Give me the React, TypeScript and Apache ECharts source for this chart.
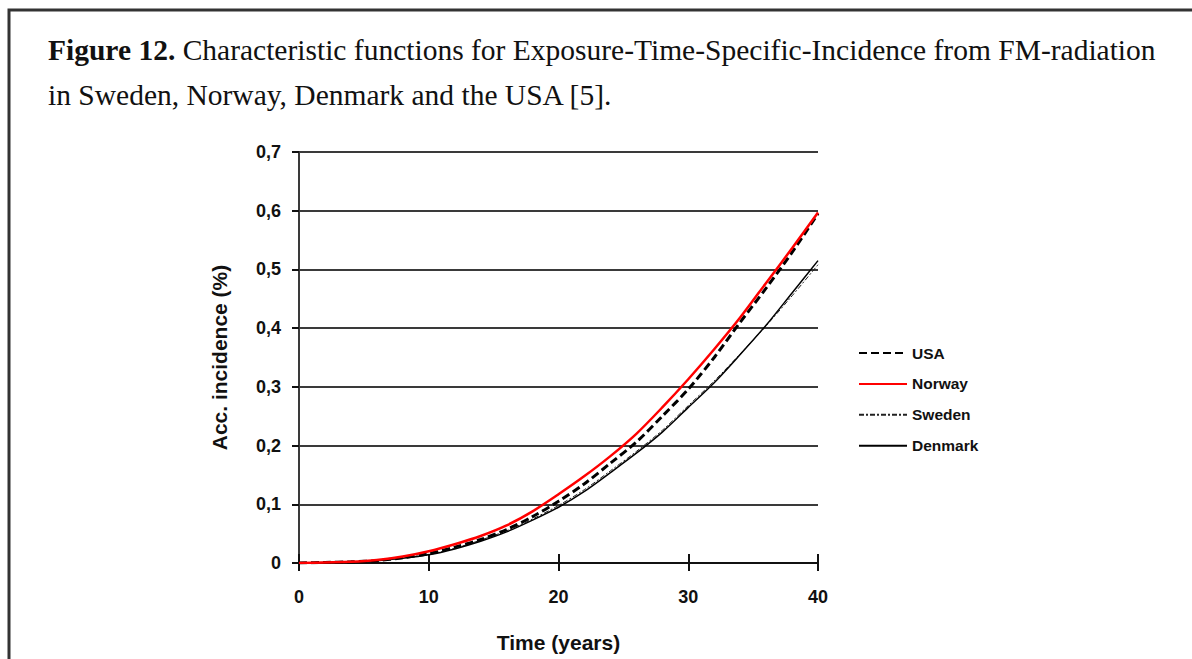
import React, { useEffect, useRef } from "react";
import * as echarts from "echarts";

const years = [0, 2, 4, 6, 8, 10, 12, 14, 16, 18, 20, 22, 24, 26, 28, 30, 32, 34, 36, 38, 40];
const usa = [0, 0.001, 0.002, 0.004, 0.009, 0.016, 0.027, 0.04, 0.057, 0.079, 0.105, 0.135, 0.17, 0.206, 0.25, 0.296, 0.35, 0.41, 0.468, 0.529, 0.595];
const norway = [0, 0.001, 0.002, 0.005, 0.011, 0.02, 0.032, 0.046, 0.064, 0.088, 0.117, 0.148, 0.182, 0.22, 0.265, 0.313, 0.364, 0.418, 0.477, 0.536, 0.597];
const sweden = [0, 0.001, 0.002, 0.004, 0.009, 0.015, 0.025, 0.039, 0.055, 0.075, 0.098, 0.125, 0.157, 0.19, 0.226, 0.268, 0.31, 0.356, 0.404, 0.455, 0.508];
const denmark = [0, 0.001, 0.002, 0.004, 0.008, 0.014, 0.024, 0.037, 0.053, 0.073, 0.095, 0.122, 0.154, 0.187, 0.223, 0.265, 0.307, 0.355, 0.405, 0.46, 0.515];
const seriesNames = ["USA", "Norway", "Sweden", "Denmark"];
const titleBold = "Figure 12.";
const titleRest1 = " Characteristic functions for Exposure-Time-Specific-Incidence from FM-radiation";
const titleLine2 = "in Sweden, Norway, Denmark and the USA [5].";
const xName = "Time (years)";
const yName = "Acc. incidence (%)";

const pairs = (vals: number[]) => years.map((t, i) => [t, vals[i]]);

export default function App() {
  const ref = useRef<HTMLDivElement>(null);
  useEffect(() => {
    if (!ref.current) return;
    const chart = echarts.init(ref.current, null, { renderer: "svg" });
    const sans = "'Liberation Sans', Arial, sans-serif";
    const serif = "'Liberation Serif', 'Times New Roman', serif";
    chart.setOption({
      animation: false,
      backgroundColor: "#ffffff",
      grid: { left: 299, right: 374, top: 152, bottom: 96, containLabel: false },
      legend: {
        orient: "vertical",
        left: 858,
        top: 345,
        padding: 0,
        itemWidth: 48,
        itemHeight: 14,
        itemGap: 14.9,
        data: seriesNames,
        itemStyle: { opacity: 0 },
        textStyle: { fontFamily: sans, fontWeight: "bold", fontSize: 15.5, lineHeight: 14, color: "#111" },
      },
      xAxis: [
        {
          type: "value",
          min: 0,
          max: 40,
          interval: 10,
          position: "bottom",
          name: xName,
          nameLocation: "middle",
          nameGap: 69,
          nameTextStyle: { fontFamily: sans, fontWeight: "bold", fontSize: 21, color: "#111" },
          axisLine: { show: true, lineStyle: { color: "#111", width: 2 } },
          axisTick: { show: true, inside: false, length: 8, lineStyle: { color: "#111", width: 2 } },
          axisLabel: { margin: 25, fontFamily: sans, fontWeight: "bold", fontSize: 18, color: "#111" },
          splitLine: { show: false },
        },
        {
          type: "value",
          min: 0,
          max: 40,
          interval: 10,
          position: "bottom",
          axisLine: { show: false },
          axisTick: { show: true, inside: true, length: 9, lineStyle: { color: "#111", width: 2 } },
          axisLabel: { show: false },
          splitLine: { show: false },
        },
      ],
      yAxis: [
        {
          type: "value",
          min: 0,
          max: 0.7,
          interval: 0.1,
          name: yName,
          nameLocation: "middle",
          nameGap: 69,
          nameRotate: 90,
          nameTextStyle: { fontFamily: sans, fontWeight: "bold", fontSize: 21, color: "#111" },
          axisLine: { show: true, lineStyle: { color: "#111", width: 2 } },
          axisTick: { show: true, inside: false, length: 7, lineStyle: { color: "#111", width: 2 } },
          axisLabel: {
            margin: 18,
            fontFamily: sans,
            fontWeight: "bold",
            fontSize: 18,
            color: "#111",
            formatter: (v: number) => (v === 0 ? "0" : v.toFixed(1).replace(".", ",")),
          },
          splitLine: { show: true, lineStyle: { color: "#3a3a3a", width: 2 } },
        },
        {
          type: "value",
          min: 0,
          max: 0.7,
          interval: 0.1,
          position: "right",
          axisLine: { show: true, lineStyle: { color: "#3a3a3a", width: 2 } },
          axisTick: { show: false },
          axisLabel: { show: false },
          splitLine: { show: false },
        },
      ],
      series: [
        {
          name: "USA",
          type: "line",
          data: pairs(usa),
          smooth: 0.3,
          symbol: "none",
          lineStyle: { color: "#000", width: 3, type: [8, 4] },
          itemStyle: { color: "#000" },
          z: 3,
        },
        {
          name: "Norway",
          type: "line",
          data: pairs(norway),
          smooth: 0.3,
          symbol: "none",
          lineStyle: { color: "#ff0000", width: 2.5 },
          itemStyle: { color: "#ff0000" },
          z: 4,
        },
        {
          name: "Sweden",
          type: "line",
          data: pairs(sweden),
          smooth: 0.3,
          symbol: "none",
          lineStyle: { color: "#222", width: 1, type: [5, 2, 2, 2] },
          itemStyle: { color: "#222" },
          z: 2,
        },
        {
          name: "Denmark",
          type: "line",
          data: pairs(denmark),
          smooth: 0.3,
          symbol: "none",
          lineStyle: { color: "#000", width: 1.5 },
          itemStyle: { color: "#000" },
          z: 2,
        },
      ],
      graphic: [
        {
          type: "rect",
          shape: { x: 9, y: 10, width: 1300, height: 900 },
          style: { fill: "none", stroke: "#333", lineWidth: 3 },
          silent: true,
        },
        {
          type: "text",
          x: 48,
          y: 50,
          style: {
            text: "{b|" + titleBold + "}" + titleRest1,
            fontFamily: serif,
            fontSize: 29.5,
            fill: "#111",
            verticalAlign: "middle",
            rich: { b: { fontFamily: serif, fontSize: 29.5, fontWeight: "bold", fill: "#111" } },
          },
        },
        {
          type: "text",
          x: 48,
          y: 95,
          style: {
            text: titleLine2,
            fontFamily: serif,
            fontSize: 29.5,
            fill: "#111",
            verticalAlign: "middle",
          },
        },
      ],
    });
    return () => chart.dispose();
  }, []);
  return (
    <div
      ref={ref}
      style={{ position: "fixed", left: 0, top: 0, width: 1192, height: 659, background: "#fff" }}
    />
  );
}
